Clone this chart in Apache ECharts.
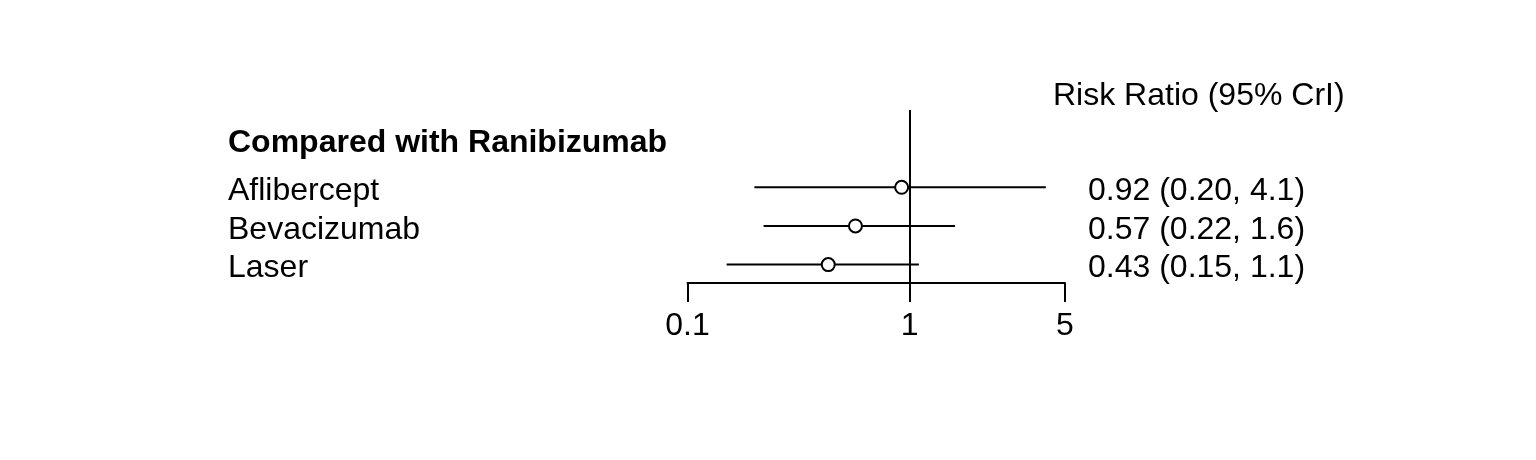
<!DOCTYPE html>
<html>
<head>
<meta charset="utf-8">
<script src="https://cdn.jsdelivr.net/npm/echarts@6/dist/echarts.min.js"></script>
<style>
html,body{margin:0;padding:0;background:#fff;}
#chart{width:1536px;height:460px;}
</style>
</head>
<body>
<div id="chart"></div>
<script>
// ---- data ----
const categories = ['Aflibercept', 'Bevacizumab', 'Laser'];
const estimates = [0.92, 0.57, 0.43];
const lower = [0.20, 0.22, 0.15];
const upper = [4.1, 1.6, 1.1];
const xTicks = [0.1, 1, 5];
const header = 'Compared with Ranibizumab';
const columnTitle = 'Risk Ratio (95% CrI)';

// ---- build ----
const FONT = "'Liberation Sans', Arial, sans-serif";
const lg = v => Math.log10(v);
const rows = categories.map((c, i) => i + 1);
const ciLabels = estimates.map((e, i) =>
  e.toFixed(2) + ' (' + lower[i].toFixed(2) + ', ' + upper[i].toFixed(1) + ')');

const chart = echarts.init(document.getElementById('chart'), null, {renderer: 'canvas'});

const yBase = {
  type: 'value', min: -1, max: 3.476, inverse: true,
  axisLine: {show: false, onZero: false},
  axisTick: {show: false},
  splitLine: {show: false}
};

chart.setOption({
  backgroundColor: '#fff',
  animation: false,
  grid: {left: 687.5, right: 471, top: 110, bottom: 177, containLabel: false},
  xAxis: {
    type: 'value', min: lg(xTicks[0]), max: lg(xTicks[xTicks.length - 1]),
    axisLine: {show: true, onZero: false, lineStyle: {color: '#000', width: 2}},
    axisTick: {show: true, length: 19, customValues: xTicks.map(lg), lineStyle: {color: '#000', width: 2}},
    axisLabel: {
      customValues: xTicks.map(lg), margin: 27,
      color: '#000', fontSize: 32, fontFamily: FONT,
      formatter: v => String(Math.round(Math.pow(10, v) * 1000) / 1000)
    },
    splitLine: {show: false}
  },
  yAxis: [
    Object.assign({}, yBase, {
      position: 'left',
      axisLabel: {
        customValues: rows, margin: 459.5, align: 'left', verticalAlign: 'top',
        lineHeight: 8,
        color: '#000', fontSize: 32, fontFamily: FONT,
        formatter: v => categories[Math.round(v) - 1]
      }
    }),
    Object.assign({}, yBase, {
      position: 'right',
      axisLabel: {
        customValues: rows, margin: 23, align: 'left', verticalAlign: 'top',
        lineHeight: 8,
        color: '#000', fontSize: 32, fontFamily: FONT,
        formatter: v => ciLabels[Math.round(v) - 1]
      }
    })
  ],
  graphic: [
    {type: 'text', left: 228, top: 127,
     style: {text: header, font: "bold 32px 'Liberation Sans', Arial, sans-serif", fill: '#000'}},
    {type: 'text', left: 1053, top: 80,
     style: {text: columnTitle, font: "32px 'Liberation Sans', Arial, sans-serif", fill: '#000'}}
  ],
  series: [
    {
      type: 'custom', z: 2,
      xAxisIndex: 0, yAxisIndex: 0,
      encode: {x: [0, 1], y: 2},
      data: rows.map((r, i) => [lg(lower[i]), lg(upper[i]), r]),
      renderItem: (params, api) => {
        const y = api.value(2);
        const p1 = api.coord([api.value(0), y]);
        const p2 = api.coord([api.value(1), y]);
        return {type: 'line', shape: {x1: p1[0], y1: p1[1], x2: p2[0], y2: p2[1]},
                style: {stroke: '#000', lineWidth: 2}};
      },
      markLine: {
        silent: true, symbol: 'none', label: {show: false},
        lineStyle: {color: '#000', width: 2, type: 'solid'},
        data: [{xAxis: lg(1)}]
      }
    },
    {
      type: 'scatter', z: 5,
      xAxisIndex: 0, yAxisIndex: 0,
      symbol: 'circle', symbolSize: 13,
      itemStyle: {color: '#fff', borderColor: '#000', borderWidth: 2, opacity: 1},
      data: rows.map((r, i) => [lg(estimates[i]), r])
    }
  ]
});
</script>
</body>
</html>
